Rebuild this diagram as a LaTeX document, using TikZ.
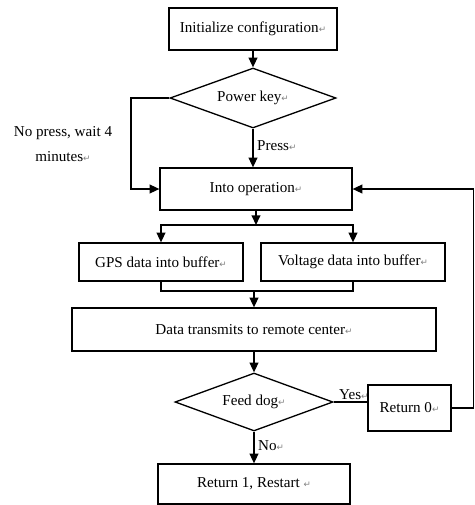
\documentclass[tikz,border=0pt]{standalone}
\usepackage{fontspec}
\setmainfont{Liberation Serif}
\newfontfamily\markfont{DejaVu Sans}
\usetikzlibrary{positioning,shapes.geometric,arrows.meta}
\newcommand{\pmark}{{\markfont\fontsize{5}{5}\selectfont\textcolor{gray}{↵}}}

\begin{document}
\begin{tikzpicture}[x=0.02cm,y=-0.02cm,
  font=\fontsize{8.6}{10}\selectfont, line width=0.75pt,
  procbox/.style={draw, rectangle, inner sep=1pt},
  choice/.style={draw, diamond, aspect=2.5, inner sep=0pt},
  arr/.style={-{Triangle[length=5.5pt,width=5pt]}}]
\useasboundingbox (0,0) rectangle (475,505);
% boxes
\node[procbox, minimum width=3.36cm, minimum height=0.84cm] (init) at (253,29) {Initialize configuration\pmark};
\node[choice, minimum width=3.32cm, minimum height=1.2cm] (power) at (253,98) {Power key\pmark};
\node[procbox, minimum width=3.84cm, minimum height=0.84cm] (oper) at (256,189) {Into operation\pmark};
\node[procbox, minimum width=3.28cm, minimum height=0.76cm] (gps) at (161,262) {GPS data into buffer\pmark};
\node[procbox, minimum width=3.68cm, minimum height=0.76cm] (volt) at (353,262) {Voltage data into buffer\pmark};
\node[procbox, minimum width=7.28cm, minimum height=0.86cm] (trans) at (254,329.5) {Data transmits to remote center\pmark};
\node[choice, minimum width=3.16cm, minimum height=1.16cm] (feed) at (254,402) {Feed dog\pmark};
\node[procbox, minimum width=1.66cm, minimum height=0.92cm] (ret0) at (409.5,408) {Return 0\pmark};
\node[procbox, minimum width=3.84cm, minimum height=0.8cm] (ret1) at (254,484) {Return 1, Restart \pmark};
\node[align=center] (nolabel) at (63,144) {No press, wait 4\\[4pt]minutes\pmark};
% turning points
\coordinate (nopress) at (131,189);
\coordinate (split) at (256,225);
\coordinate (merge) at (254,291);
\coordinate (loopb) at (473.5,408);
\coordinate (loopt) at (473.5,189);
% connectors
\draw[arr] (init) -- (power);
\draw[arr] (power.west) -| (nopress) -- (oper.west);
\draw[arr] (power.south) -- node[right, pos=0.45, inner sep=2pt] {Press\pmark} (power.south |- oper.north);
\draw[arr] (oper) -- (split);
\draw[arr] (split) -| (gps);
\draw[arr] (split) -| (volt);
\draw (gps) |- (merge) -| (volt);
\draw[arr] (merge) -- (trans);
\draw[arr] (trans) -- (feed);
\draw (feed.east) -- node[above, pos=0.6, inner sep=1pt] {Yes\pmark} (feed.east -| ret0.west);
\draw[arr] (ret0.east) -- (loopb) -- (loopt) -- (oper.east);
\draw[arr] (feed) -- node[right, pos=0.45, inner sep=2pt] {No\pmark} (ret1);
\end{tikzpicture}
\end{document}
